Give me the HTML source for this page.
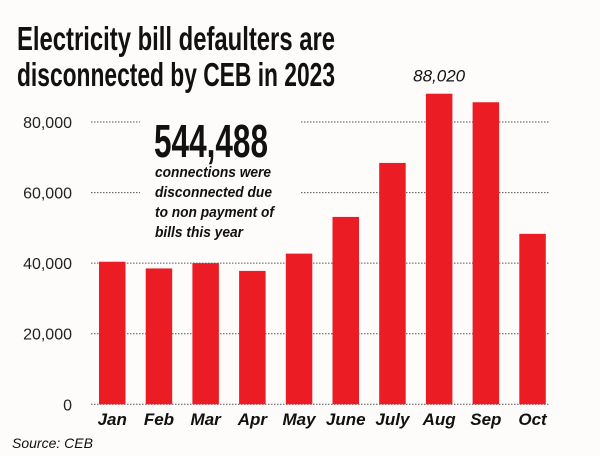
<!DOCTYPE html>
<html><head><meta charset="utf-8"><style>
body{margin:0;background:#fdfcfa;}
#c{position:relative;width:600px;height:456px;overflow:hidden;background:#fdfcfa;font-family:"Liberation Sans Narrow","Liberation Sans",sans-serif;}
</style></head><body>
<div id="c">
<svg id="s" width="600" height="456">
<g font-weight="bold" font-size="33" fill="#111">
<text x="17" y="50" textLength="318" lengthAdjust="spacingAndGlyphs">Electricity bill defaulters are</text>
<text x="17" y="86" textLength="318" lengthAdjust="spacingAndGlyphs">disconnected by CEB in 2023</text>
</g>
<g id="grid"></g>
<g id="yt"></g>
<g id="bars"></g>
<g id="xt"></g>
<rect x="140" y="110" width="160" height="130" fill="#fdfcfa"/>
<g fill="#111">
<text x="154" y="157" font-size="46" font-weight="bold" textLength="114" lengthAdjust="spacingAndGlyphs">544,488</text>
<g font-size="15" font-weight="bold" font-style="italic">
<text x="155" y="177" textLength="116" lengthAdjust="spacingAndGlyphs">connections were</text>
<text x="155" y="197" textLength="117" lengthAdjust="spacingAndGlyphs">disconnected due</text>
<text x="155" y="217" textLength="119" lengthAdjust="spacingAndGlyphs">to non payment of</text>
<text x="155" y="237" textLength="88" lengthAdjust="spacingAndGlyphs">bills this year</text>
</g></g>
<text id="peak" font-size="17" font-style="italic" fill="#111" text-anchor="middle"></text>
<text x="12" y="448" font-size="14" font-style="italic" fill="#111">Source: CEB</text>
</svg>
</div>
<script>
const categories=["Jan","Feb","Mar","Apr","May","June","July","Aug","Sep","Oct"];
const values=[40400,38500,40000,37800,42700,53100,68400,88020,85600,48300];
const yTicks=[0,20000,40000,60000,80000];
const yTickLabels=["0","20,000","40,000","60,000","80,000"];
const peakLabel="88,020";
const NS="http://www.w3.org/2000/svg";
const y=v=>404.3-v*282.3/80000;
const x=i=>99+i*46.7;
const bw=26.5;
function mk(t,a,p){const e=document.createElementNS(NS,t);for(const k in a)e.setAttribute(k,a[k]);p.appendChild(e);return e;}
const grid=document.getElementById('grid'),yt=document.getElementById('yt'),bars=document.getElementById('bars'),xt=document.getElementById('xt');
yTicks.forEach((v,i)=>{
 const l=mk('line',{x1:91,x2:550,y1:y(v),y2:y(v),stroke:'#555','stroke-width':1,'stroke-dasharray':'1.5,1.5'},grid);
 
 
 const t=mk('text',{x:72,y:y(v)+6,'text-anchor':'end','font-size':16,fill:'#222'},yt);
 t.textContent=yTickLabels[i];
 
 
});
categories.forEach((c,i)=>{
 const r=mk('rect',{x:x(i),y:y(values[i]),width:bw,height:y(0)-y(values[i]),fill:'#ec1c24'},bars);
 
 
 const t=mk('text',{x:x(i)+bw/2,y:425,'text-anchor':'middle','font-size':17,'font-weight':'bold','font-style':'italic',fill:'#111'},xt);
 t.textContent=c;
 
 
});
const mi=values.indexOf(Math.max(...values));
const pk=document.getElementById('peak');
pk.setAttribute('x',x(mi)+bw/2);pk.setAttribute('y',y(values[mi])-12);pk.textContent=peakLabel;
</script>
</body></html>
